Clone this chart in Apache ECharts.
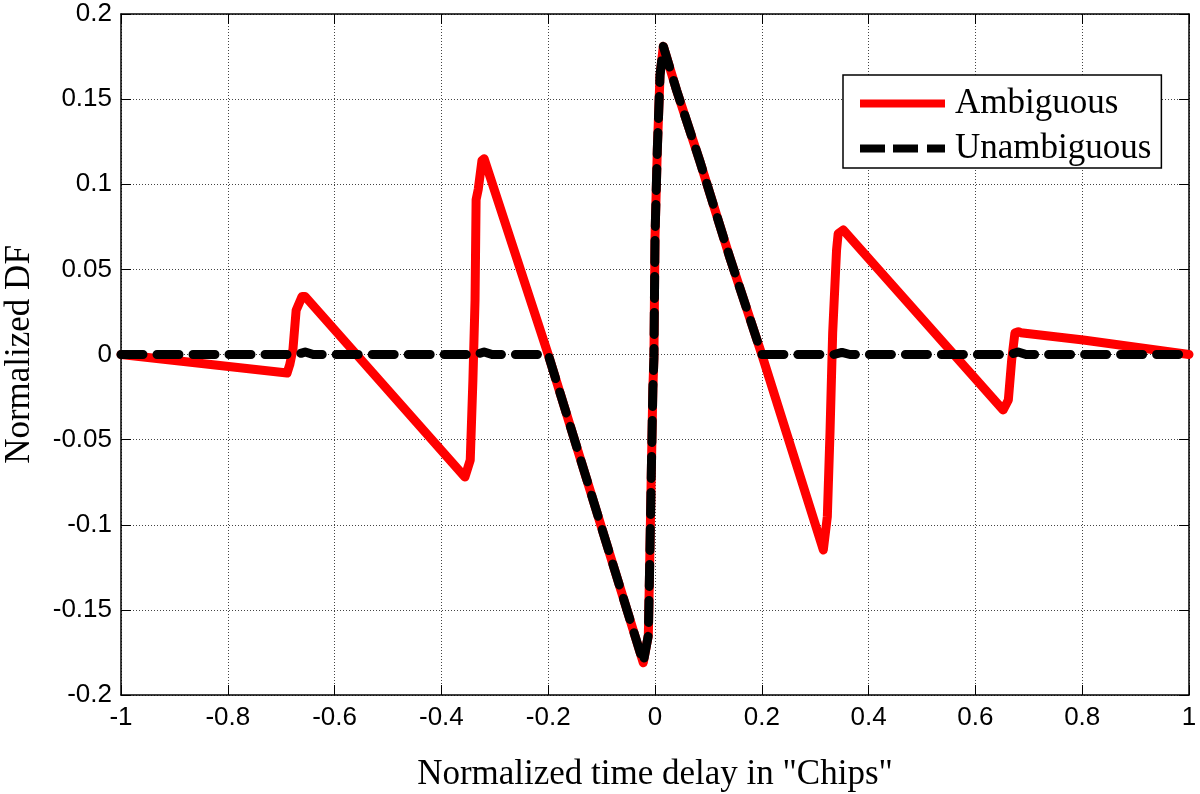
<!DOCTYPE html>
<html>
<head>
<meta charset="utf-8">
<script src="https://cdn.jsdelivr.net/npm/echarts@6/dist/echarts.min.js"></script>
<style>html,body{margin:0;padding:0;background:#fff}#c{width:1200px;height:794px}</style>
</head>
<body>
<div id="c"></div>
<script>
// Ambiguous DF (red)
const ambX = [-1, -0.689, -0.684, -0.678, -0.672, -0.661, -0.655, -0.356, -0.346, -0.341, -0.337, -0.335, -0.331, -0.324, -0.320, -0.2,
  -0.022, -0.0125, -0.010, -0.007, -0.004, -0.002, 0, 0.0043, 0.0094, 0.0156, 0.0406, 0.084, 0.140, 0.2,
  0.3152, 0.3227, 0.3277, 0.3327, 0.340, 0.343, 0.3527, 0.652, 0.6617, 0.668, 0.674, 0.6804, 0.685, 0.802, 1];
const ambY = [0, -0.0109, -0.006, 0.003, 0.026, 0.034, 0.034, -0.072, -0.062, -0.015, 0.032, 0.091, 0.097, 0.114, 0.115, 0,
  -0.181, -0.165, -0.124, -0.0707, -0.020, -0.002, 0.069, 0.120, 0.164, 0.181, 0.155, 0.1135, 0.057, 0,
  -0.1148, -0.0953, -0.046, 0.0126, 0.0614, 0.071, 0.0731, -0.0326, -0.0267, -0.003, 0.0126, 0.0134, 0.0128, 0.0085, 0];
// Unambiguous DF (black dashed)
const unaX = [-1, -0.67, -0.655, -0.64, -0.335, -0.32, -0.305, -0.2,
  -0.022, -0.0125, -0.010, -0.007, -0.004, -0.002, 0, 0.0043, 0.0094, 0.0156, 0.0406, 0.084, 0.140, 0.2,
  0.335, 0.35, 0.365, 0.665, 0.68, 0.695, 0.99, 1];
const unaY = [0, 0, 0.0015, 0, 0, 0.0015, 0, 0,
  -0.181, -0.165, -0.124, -0.0707, -0.020, -0.002, 0.069, 0.120, 0.164, 0.181, 0.155, 0.1135, 0.057, 0,
  0, 0.0012, 0, 0, 0.0015, 0, 0, 0.0015];
const legendNames = ['Ambiguous', 'Unambiguous'];
const xTicks = {min: -1, max: 1, interval: 0.2};
const yTicks = {min: -0.2, max: 0.2, interval: 0.05};

const zip = (xs, ys) => xs.map((x, i) => [x, ys[i]]);
const chart = echarts.init(document.getElementById('c'));
const sans = 'Liberation Sans';
const serif = 'Liberation Serif';
const axisLine = {show: true, onZero: false, lineStyle: {color: '#000', width: 1.5}};
const tick = {show: true, inside: true, length: 10, lineStyle: {color: '#000', width: 1}};
const grid = {show: true, lineStyle: {color: '#444', width: 1, type: [1, 2]}};
chart.setOption({
  animation: false,
  backgroundColor: '#fff',
  grid: {left: 121, right: 11, top: 14, bottom: 99, containLabel: false, outerBoundsMode: 'none'},
  legend: {
    orient: 'vertical', left: 843, top: 75,
    padding: [11, 10, 2, 17], itemGap: 10, itemWidth: 85, itemHeight: 8,
    borderColor: '#000', borderWidth: 1.5, backgroundColor: '#fff',
    textStyle: {fontFamily: serif, fontSize: 35, color: '#000', lineHeight: 35, padding: [0, 0, 0, 5]},
    data: [
      {name: legendNames[0], icon: 'rect', itemStyle: {color: '#ff0000'}},
      {name: legendNames[1], icon: 'path://M0,0h25v8h-25z M33,0h25v8h-25z M67,0h18v8h-18z', itemStyle: {color: '#000'}}
    ]
  },
  xAxis: [{
    type: 'value', position: 'bottom', min: xTicks.min, max: xTicks.max, interval: xTicks.interval,
    axisLine, axisTick: tick, splitLine: grid,
    axisLabel: {fontFamily: sans, fontSize: 26, color: '#000', margin: 10},
    name: 'Normalized time delay in "Chips"', nameLocation: 'middle', nameGap: 62,
    nameTextStyle: {fontFamily: serif, fontSize: 35, color: '#000'}
  }, {
    type: 'value', position: 'top', min: xTicks.min, max: xTicks.max, interval: xTicks.interval,
    axisLine, axisTick: tick, splitLine: {show: false}, axisLabel: {show: false}
  }],
  yAxis: [{
    type: 'value', position: 'left', min: yTicks.min, max: yTicks.max, interval: yTicks.interval,
    axisLine, axisTick: tick, splitLine: grid,
    axisLabel: {fontFamily: sans, fontSize: 26, color: '#000', margin: 9},
    name: 'Normalized DF', nameLocation: 'middle', nameGap: 84,
    nameTextStyle: {fontFamily: serif, fontSize: 35, color: '#000'}
  }, {
    type: 'value', position: 'right', min: yTicks.min, max: yTicks.max, interval: yTicks.interval,
    axisLine, axisTick: tick, splitLine: {show: false}, axisLabel: {show: false}
  }],
  series: [{
    name: legendNames[0], type: 'line', symbol: 'none', z: 2,
    data: zip(ambX, ambY),
    itemStyle: {color: '#ff0000'},
    lineStyle: {color: '#ff0000', width: 9, cap: 'round', join: 'round'}
  }, {
    name: legendNames[1], type: 'line', symbol: 'none', z: 3,
    data: zip(unaX, unaY),
    itemStyle: {color: '#000'},
    lineStyle: {color: '#000', width: 9, type: [22, 14], cap: 'round', join: 'round'}
  }]
});
</script>
</body>
</html>
